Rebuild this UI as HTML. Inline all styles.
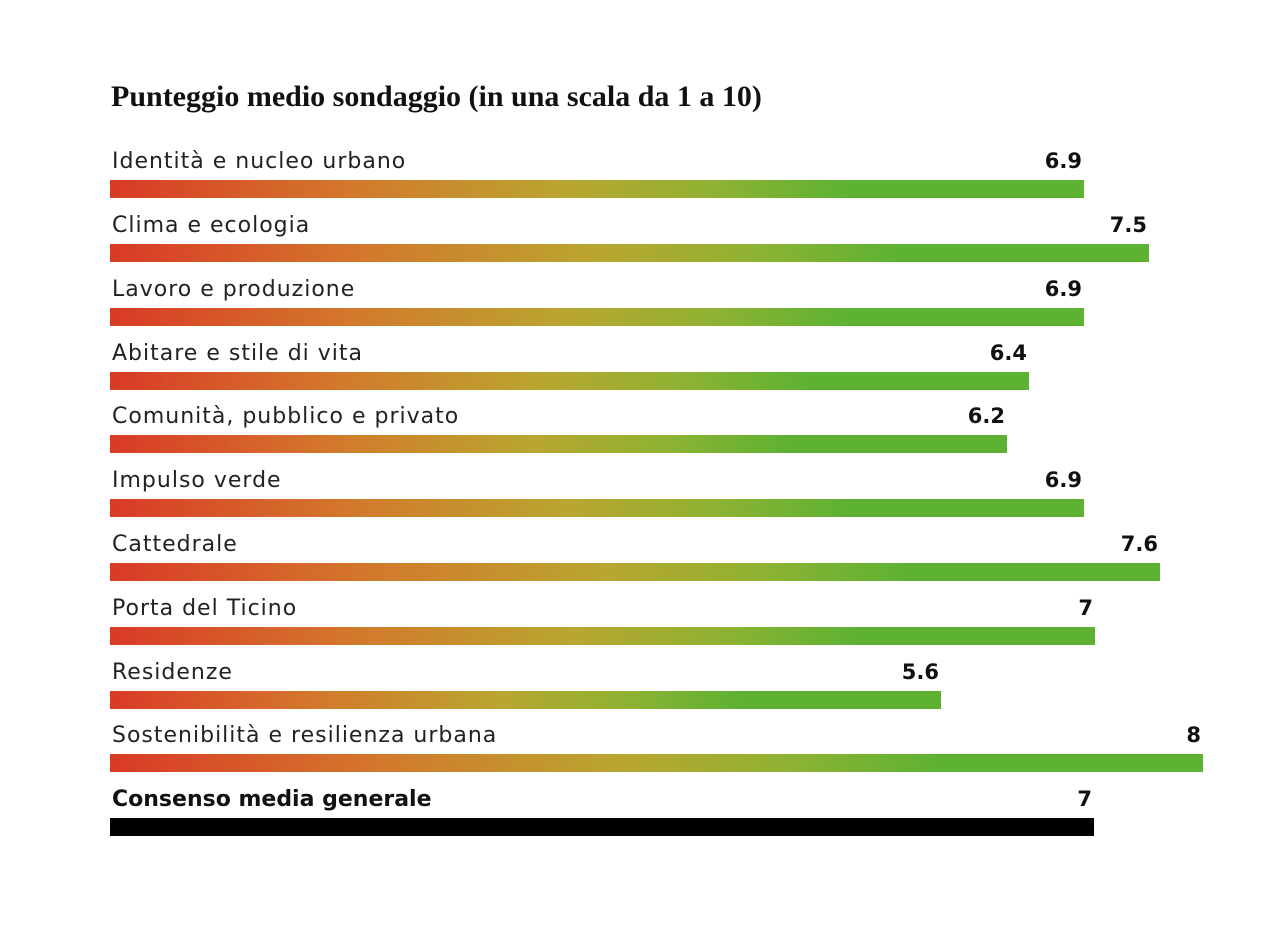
<!DOCTYPE html>
<html><head><meta charset="utf-8"><style>
body{margin:0;width:1280px;height:934px;background:#fff;position:relative;overflow:hidden;font-family:"DejaVu Sans",sans-serif}
.t{position:absolute;left:111px;top:80px;font-family:"Liberation Serif",serif;font-weight:bold;font-size:30px;color:#111}
.r{position:absolute;left:110px}
.l{position:absolute;left:2px;top:-31px;font-size:22px;letter-spacing:1px;color:#222;white-space:nowrap}
.v{position:absolute;right:2px;top:-31px;font-size:21px;font-weight:bold;color:#111}
.b{position:absolute;left:0;top:0;height:18px;width:100%;background:linear-gradient(90deg,#d93a26 0%,#d3792c 25%,#b9a630 47%,#8fb233 62%,#5db233 76%,#5db233 100%)}
</style></head><body>
<div class="t">Punteggio medio sondaggio (in una scala da 1 a 10)</div>
<div class="r" style="top:180px;width:974px"><span class="l">Identità e nucleo urbano</span><span class="v">6.9</span><div class="b"></div></div>
<div class="r" style="top:244px;width:1039px"><span class="l">Clima e ecologia</span><span class="v">7.5</span><div class="b"></div></div>
<div class="r" style="top:308px;width:974px"><span class="l">Lavoro e produzione</span><span class="v">6.9</span><div class="b"></div></div>
<div class="r" style="top:372px;width:919px"><span class="l">Abitare e stile di vita</span><span class="v">6.4</span><div class="b"></div></div>
<div class="r" style="top:435px;width:897px"><span class="l">Comunità, pubblico e privato</span><span class="v">6.2</span><div class="b"></div></div>
<div class="r" style="top:499px;width:974px"><span class="l">Impulso verde</span><span class="v">6.9</span><div class="b"></div></div>
<div class="r" style="top:563px;width:1050px"><span class="l">Cattedrale</span><span class="v">7.6</span><div class="b"></div></div>
<div class="r" style="top:627px;width:985px"><span class="l">Porta del Ticino</span><span class="v">7</span><div class="b"></div></div>
<div class="r" style="top:691px;width:831px"><span class="l">Residenze</span><span class="v">5.6</span><div class="b"></div></div>
<div class="r" style="top:754px;width:1093px"><span class="l">Sostenibilità e resilienza urbana</span><span class="v">8</span><div class="b"></div></div>
<div class="r" style="top:818px;width:984px"><span class="l" style="font-weight:bold;color:#111;letter-spacing:0">Consenso media generale</span><span class="v">7</span><div class="b" style="background:#000"></div></div>
</body></html>
